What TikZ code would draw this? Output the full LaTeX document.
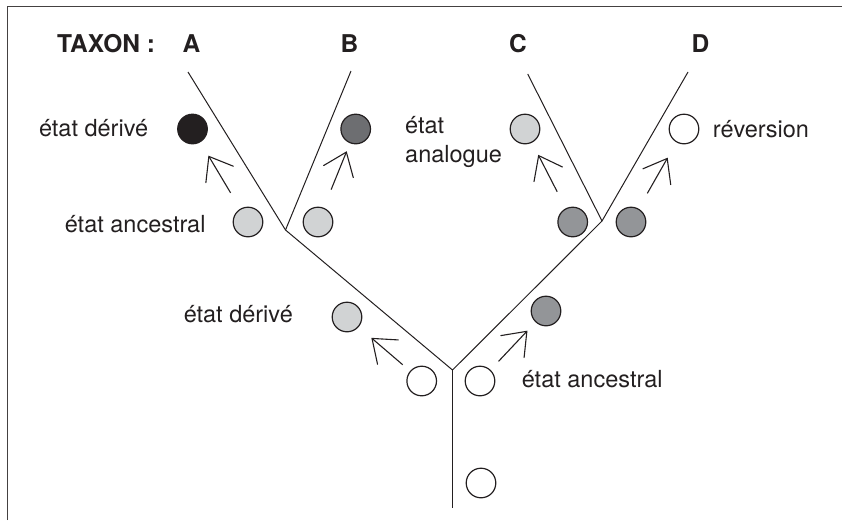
\documentclass[tikz,border=0pt]{standalone}
\usepackage{fontspec}
\setmainfont{TeX Gyre Heros}
\usetikzlibrary{arrows.meta,calc}
\definecolor{ink}{HTML}{231F20}
\definecolor{lgrey}{HTML}{D1D3D4}
\definecolor{mgrey}{HTML}{939598}
\definecolor{dgrey}{HTML}{6D6E71}
\begin{document}
\begin{tikzpicture}[x=1pt,y=-1pt,
  dot/.style={circle,draw=ink,line width=1.2pt,minimum size=29.6pt,inner sep=0pt},
  lbl/.style={inner sep=0pt,font=\fontsize{23.5}{28}\selectfont,text=ink},
  tax/.style={inner sep=0pt,font=\fontsize{24.5}{29}\selectfont\bfseries,text=ink,anchor=base},
  branch/.style={draw=ink,line width=1pt},
  arr/.style={draw=ink,line width=1.1pt,-{Straight Barb[length=21pt,width=32pt,line cap=round]}}]
\useasboundingbox (0,0) rectangle (842,520);
% frame
\draw[line width=1.4pt,draw=ink!85] (7.7,520) -- (7.7,6.5) -- (842,6.5);
% taxon labels
\node[tax,anchor=base west] (tx) at (57,52.3) {TAXON :};
\node[tax] (nA) at (191.5,52.3) {A};
\node[tax] (nB) at (349.5,52.3) {B};
\node[tax] (nC) at (518,52.3) {C};
\node[tax] (nD) at (700.5,52.3) {D};
% tree
\coordinate (tA) at (188,72);
\coordinate (tB) at (351,71);
\coordinate (tC) at (527.7,74);
\coordinate (tD) at (688,72);
\coordinate (jAB) at (285.5,230);
\coordinate (jCD) at (602,221);
\coordinate (root) at (452.5,370);
\coordinate (base) at (452.5,508);
\draw[branch] (tA) -- (jAB) -- (root) -- (jCD) -- (tC);
\draw[branch] (tB) -- (jAB);
\draw[branch] (tD) -- (jCD);
\draw[branch] (root) -- (base);
% circles
\node[dot,fill=ink] (a2) at (192.5,129) {};
\node[dot,fill=dgrey] (b2) at (355.7,129) {};
\node[dot,fill=lgrey] (c2) at (525,129) {};
\node[dot,fill=white] (d2) at (684,129) {};
\node[dot,fill=lgrey] (a1) at (248,222) {};
\node[dot,fill=lgrey] (b1) at (318,222) {};
\node[dot,fill=mgrey] (c1) at (572.7,222) {};
\node[dot,fill=mgrey] (d1) at (631,222) {};
\node[dot,fill=lgrey] (ab) at (347,317) {};
\node[dot,fill=mgrey] (cd) at (546,311) {};
\node[dot,fill=white] (l0) at (421.7,381) {};
\node[dot,fill=white] (r0) at (480,381) {};
\node[dot,fill=white] (rt) at (481,483) {};
% arrows
\draw[arr] ($(a1.center)!34pt!(a2.center)$) -- ($(a2.center)!31pt!(a1.center)$);
\draw[arr] ($(b1.center)!35pt!(b2.center)$) -- ($(b2.center)!24pt!(b1.center)$);
\draw[arr] ($(c1.center)!34pt!(c2.center)$) -- ($(c2.center)!29pt!(c1.center)$);
\draw[arr] ($(d1.center)!33pt!(d2.center)$) -- ($(d2.center)!33pt!(d1.center)$);
\draw[arr] ($(l0.center)!25pt!(ab.center)$) -- ($(ab.center)!32pt!(l0.center)$);
\draw[arr] ($(r0.center)!27pt!(cd.center)$) -- ($(cd.center)!27pt!(r0.center)$);
% labels
\node[lbl,anchor=base east] (t1) at (148.3,136) {état dérivé};
\node[lbl,anchor=base east] (t2) at (205.7,232.7) {état ancestral};
\node[lbl,anchor=base west] (t3a) at (405,133.3) {état};
\node[lbl,anchor=base west] (t3b) at (405,162) {analogue};
\node[lbl,anchor=base west] (t4) at (712.7,137.7) {réversion};
\node[lbl,anchor=base east] (t5) at (293,322) {état dérivé};
\node[lbl,anchor=base west] (t6) at (521.7,387.7) {état ancestral};
\end{tikzpicture}
\end{document}
